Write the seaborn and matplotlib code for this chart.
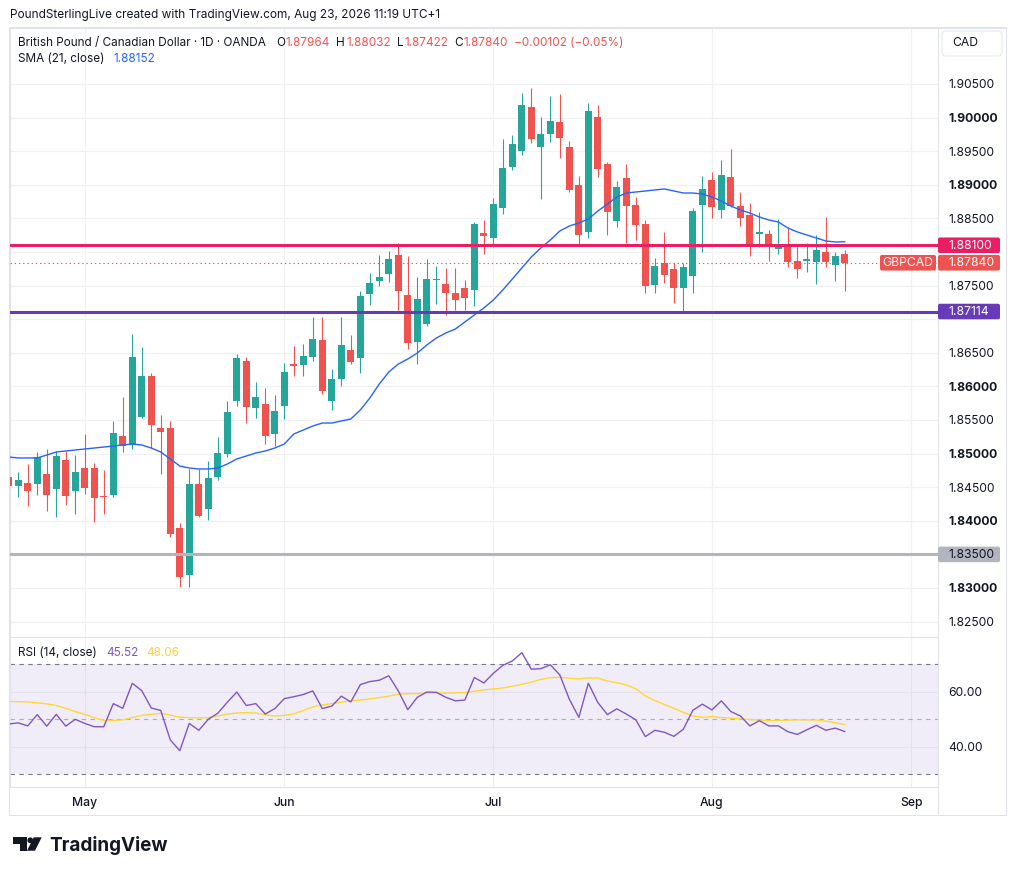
import numpy as np
import pandas as pd
import matplotlib
matplotlib.use("Agg")
import matplotlib.pyplot as plt
import seaborn as sns
from matplotlib.patches import Rectangle, FancyBboxPatch, Polygon, Circle
from matplotlib.lines import Line2D
from matplotlib.transforms import Affine2D

# ---------------- data (GBP/CAD daily, OANDA) ----------------
start_date = "2026-04-21"
end_date = "2026-08-21"

open_ = [1.84652, 1.84518, 1.84563, 1.84548, 1.84696, 1.84473, 1.84905, 1.84443, 1.84786, 1.84786,
         1.84369, 1.84384, 1.85262, 1.85128, 1.85545, 1.86155, 1.85381, 1.85381, 1.83893, 1.83193,
         1.84548, 1.84176, 1.84652, 1.84994, 1.85783, 1.86378, 1.85679, 1.85738, 1.85292, 1.85708,
         1.86333, 1.86318, 1.86438, 1.86691, 1.85783, 1.86110, 1.86542, 1.86423, 1.87375, 1.87568,
         1.87673, 1.87955, 1.87360, 1.86661, 1.86929, 1.87583, 1.87524, 1.87390, 1.87464, 1.87435,
         1.88283, 1.88208, 1.88655, 1.89265, 1.89503, 1.90158, 1.89563, 1.89756, 1.89935, 1.89563,
         1.88997, 1.88298, 1.90009, 1.89310, 1.88461, 1.89101, 1.88699, 1.88417, 1.87509, 1.87836,
         1.87747, 1.87464, 1.87643, 1.88699, 1.89071, 1.88625, 1.89116, 1.88685, 1.88551, 1.88268,
         1.88268, 1.88045, 1.88104, 1.87866, 1.87866, 1.87851, 1.88000, 1.87807, 1.87964]
high = [1.84726, 1.84726, 1.84845, 1.85024, 1.85068, 1.85039, 1.85039, 1.84979, 1.85292, 1.84860,
        1.84756, 1.85485, 1.85842, 1.86780, 1.86586, 1.86199, 1.85574, 1.85485, 1.83967, 1.84771,
        1.84771, 1.84890, 1.85247, 1.85783, 1.86482, 1.86438, 1.86065, 1.85976, 1.85872, 1.86348,
        1.86601, 1.86631, 1.87033, 1.87033, 1.86259, 1.87033, 1.86765, 1.87420, 1.87688, 1.87955,
        1.88015, 1.88134, 1.87940, 1.87628, 1.87896, 1.87792, 1.87762, 1.87762, 1.87583, 1.88446,
        1.88476, 1.88804, 1.89682, 1.89741, 1.90366, 1.90441, 1.90009, 1.90321, 1.90351, 1.89652,
        1.89131, 1.90217, 1.90188, 1.89339, 1.89057, 1.89310, 1.88818, 1.88476, 1.87911, 1.88298,
        1.87836, 1.87836, 1.88655, 1.89131, 1.89190, 1.89369, 1.89533, 1.88893, 1.88729, 1.88595,
        1.88327, 1.88491, 1.88372, 1.88074, 1.88134, 1.88253, 1.88521, 1.88000, 1.88032]
low = [1.84429, 1.84354, 1.84220, 1.84384, 1.84146, 1.84057, 1.84235, 1.84101, 1.84399, 1.83982,
       1.84101, 1.84354, 1.85024, 1.85068, 1.85530, 1.85083, 1.84696, 1.83759, 1.83015, 1.83015,
       1.84057, 1.84012, 1.84607, 1.84949, 1.85708, 1.85455, 1.85530, 1.85143, 1.85113, 1.85515,
       1.86155, 1.86155, 1.86378, 1.85887, 1.85649, 1.86006, 1.86333, 1.86199, 1.87211, 1.87494,
       1.87554, 1.87137, 1.86557, 1.86333, 1.86899, 1.87226, 1.87063, 1.87137, 1.87137, 1.87196,
       1.87970, 1.88074, 1.88565, 1.89220, 1.89443, 1.89622, 1.88789, 1.89637, 1.89399, 1.88893,
       1.88104, 1.88208, 1.89116, 1.88253, 1.88372, 1.88134, 1.88179, 1.87390, 1.87390, 1.87539,
       1.87241, 1.87107, 1.87390, 1.88000, 1.88506, 1.88506, 1.88670, 1.88387, 1.87940, 1.88074,
       1.87866, 1.87970, 1.87777, 1.87613, 1.87702, 1.87524, 1.87777, 1.87568, 1.87422]
close = [1.84518, 1.84607, 1.84443, 1.84949, 1.84384, 1.84964, 1.84369, 1.84726, 1.84488, 1.84339,
         1.84354, 1.85307, 1.85113, 1.86438, 1.86155, 1.85426, 1.85321, 1.83804, 1.83164, 1.84548,
         1.84071, 1.84637, 1.85009, 1.85619, 1.86423, 1.85694, 1.85842, 1.85262, 1.85634, 1.86214,
         1.86304, 1.86452, 1.86705, 1.85932, 1.86110, 1.86616, 1.86363, 1.87345, 1.87539, 1.87628,
         1.87896, 1.87420, 1.86646, 1.87301, 1.87598, 1.87598, 1.87390, 1.87286, 1.87315, 1.88417,
         1.88238, 1.88714, 1.89250, 1.89607, 1.90188, 1.89682, 1.89756, 1.89949, 1.89696, 1.88923,
         1.88253, 1.90098, 1.89235, 1.88595, 1.88967, 1.88685, 1.88402, 1.87494, 1.87792, 1.87658,
         1.87464, 1.87777, 1.88610, 1.88938, 1.88670, 1.89146, 1.88685, 1.88506, 1.88074, 1.88298,
         1.88089, 1.88104, 1.87851, 1.87747, 1.87896, 1.88030, 1.87851, 1.87942, 1.87840]
sma21 = [1.84949, 1.84935, 1.84935, 1.84935, 1.84979, 1.85024, 1.85039, 1.85054, 1.85068, 1.85083,
         1.85098, 1.85113, 1.85128, 1.85143, 1.85128, 1.85083, 1.85024, 1.84920, 1.84815, 1.84786,
         1.84771, 1.84771, 1.84786, 1.84845, 1.84920, 1.84964, 1.85009, 1.85039, 1.85083, 1.85143,
         1.85292, 1.85351, 1.85411, 1.85455, 1.85455, 1.85485, 1.85515, 1.85649, 1.85827, 1.86036,
         1.86214, 1.86333, 1.86408, 1.86497, 1.86616, 1.86720, 1.86795, 1.86854, 1.86958, 1.87063,
         1.87167, 1.87286, 1.87435, 1.87598, 1.87762, 1.87926, 1.88060, 1.88179, 1.88313, 1.88387,
         1.88432, 1.88491, 1.88610, 1.88714, 1.88818, 1.88878, 1.88893, 1.88908, 1.88923, 1.88938,
         1.88908, 1.88878, 1.88878, 1.88863, 1.88818, 1.88759, 1.88685, 1.88625, 1.88580, 1.88521,
         1.88476, 1.88446, 1.88357, 1.88298, 1.88253, 1.88208, 1.88164, 1.88149, 1.88152]
rsi14 = [48.3, 48.7, 47.6, 51.7, 47.5, 51.8, 47.5, 50.0, 48.5, 47.3,
         47.3, 55.7, 54.0, 63.1, 60.4, 54.1, 53.2, 42.5, 38.6, 48.5,
         46.0, 50.0, 52.2, 56.2, 59.9, 55.0, 55.7, 51.9, 53.9, 57.5,
         58.2, 59.0, 60.3, 53.9, 54.8, 58.4, 56.3, 62.6, 63.7, 64.2,
         65.8, 60.3, 53.5, 58.0, 59.9, 59.8, 58.0, 56.7, 57.0, 65.2,
         63.2, 66.7, 69.6, 71.2, 74.2, 68.2, 68.4, 69.8, 66.1, 57.3,
         50.7, 63.1, 56.1, 51.7, 53.8, 51.9, 49.8, 43.7, 46.0, 45.3,
         43.8, 46.4, 53.3, 55.5, 53.4, 56.7, 52.8, 51.2, 47.6, 49.5,
         47.6, 47.6, 45.5, 44.5, 46.2, 47.8, 46.0, 46.8, 45.52]
rsi_ma = [56.5, 56.4, 56.3, 56.0, 55.6, 55.0, 54.0, 52.8, 51.8, 50.6,
          49.6, 49.6, 49.8, 50.6, 51.4, 51.8, 52.2, 51.5, 50.8, 50.6,
          50.5, 50.6, 51.2, 51.9, 52.3, 52.4, 52.3, 51.6, 51.2, 51.4,
          52.0, 53.2, 54.5, 55.2, 55.7, 56.2, 56.7, 57.0, 57.4, 57.9,
          58.4, 59.1, 59.3, 59.3, 59.5, 59.6, 59.5, 59.6, 59.7, 60.2,
          60.7, 61.0, 61.4, 62.0, 62.7, 63.5, 64.5, 65.1, 65.3, 64.9,
          64.7, 65.0, 65.0, 63.9, 63.3, 62.5, 61.1, 58.5, 56.8, 55.4,
          54.0, 52.5, 51.2, 50.7, 51.0, 50.6, 50.4, 50.2, 49.9, 49.7,
          49.5, 49.6, 49.7, 49.8, 49.8, 49.7, 49.3, 48.8, 48.06]

level_red = 1.88100
level_purple = 1.87114
level_grey = 1.83500
price_ticks = [1.825, 1.830, 1.835, 1.840, 1.845, 1.850, 1.855, 1.860, 1.865, 1.870,
               1.875, 1.880, 1.885, 1.890, 1.895, 1.900, 1.905]
hidden_ticks = [1.870, 1.880]   # covered by the level / price labels
rsi_ticks = [40, 60]
month_keys = ["2026-05", "2026-06", "2026-07", "2026-08", "2026-09"]

# ---------------- style ----------------
sns.set_theme(style="white")
plt.rcParams['font.family'] = ['Inter', 'DejaVu Sans']

UP, DOWN = '#26a69a', '#ef5350'
TXT = '#131722'
GRID = '#f0f1f4'
BORDER = '#e0e3eb'

W, H = 1016, 875
fig = plt.figure(figsize=(W / 100, H / 100), dpi=100)
fig.patch.set_facecolor('white')
pix = Affine2D().scale(1 / W, -1 / H).translate(0, 1) + fig.transFigure
renderer = fig.canvas.get_renderer()


def axrect(l, t, r, b):
    return [l / W, 1 - b / H, (r - l) / W, (b - t) / H]


def fit_size(s, width_px, weight='normal'):
    t = fig.text(0, 0, s, fontsize=10, fontweight=weight)
    w = t.get_window_extent(renderer).width
    t.remove()
    return 10 * width_px / w


def twidth(s, size, weight='normal'):
    t = fig.text(0, 0, s, fontsize=size, fontweight=weight)
    w = t.get_window_extent(renderer).width
    t.remove()
    return w


def ptext(x, y, s, size, color=TXT, weight='normal', ha='left', va='center'):
    return fig.text(x, y, s, fontsize=size, color=color, fontweight=weight,
                    ha=ha, va=va, transform=pix)


FS = fit_size("1.90500", 47)

ax_p = fig.add_axes(axrect(10, 28, 938, 637))
ax_r = fig.add_axes(axrect(10, 637, 938, 787))

dates = pd.bdate_range(start_date, end_date)
idx = np.arange(len(dates))
ext = pd.bdate_range(start_date, "2026-09-30")
ext_m = ext.strftime("%Y-%m")
month_pos = [int(np.where(ext_m == m)[0][0]) for m in month_keys]
month_lab = [pd.Timestamp(m + "-01").strftime("%b") for m in month_keys]

xlim = (0.13, 97.8)
for ax in (ax_p, ax_r):
    ax.set_xlim(*xlim)
    ax.set_facecolor('white')
    for sp in ax.spines.values():
        sp.set_color(BORDER)
        sp.set_linewidth(0.75)
    for p in month_pos:
        ax.axvline(p, color=GRID, lw=0.9, zorder=0)

# ---------------- price pane ----------------
ax_p.set_ylim(1.822708, 1.913333)
for t in price_ticks:
    ax_p.axhline(t, color=GRID, lw=0.9, zorder=0)

o = np.array(open_); c = np.array(close)
cols = [UP if cc >= oo else DOWN for oo, cc in zip(o, c)]
ax_p.vlines(idx, low, high, colors=cols, linewidth=0.8, zorder=2)
body_bot = np.minimum(o, c)
body_h = np.maximum(np.abs(c - o), 0.00013)
ax_p.bar(idx, body_h, bottom=body_bot, width=0.72, color=cols, linewidth=0, zorder=3)

sns.lineplot(x=idx, y=sma21, ax=ax_p, color='#2962ff', linewidth=1.0, zorder=4)

ax_p.axhline(close[-1], color=DOWN, lw=0.8, linestyle=(0, (1.2, 2.6)), zorder=4)
ax_p.axhline(level_red, color='#e91e63', lw=2.2, zorder=5)
ax_p.axhline(level_purple, color='#673ab7', lw=2.2, zorder=5)
ax_p.axhline(level_grey, color='#b2b5be', lw=2.2, zorder=5)

ax_p.set_yticks(price_ticks)
ax_p.set_yticklabels(['' if any(abs(t - h) < 1e-9 for h in hidden_ticks) else f"{t:.5f}"
                      for t in price_ticks])
ax_p.yaxis.tick_right()
ax_p.tick_params(axis='y', length=0, pad=7.2, labelsize=FS, labelcolor=TXT)
for lab, t in zip(ax_p.get_yticklabels(), price_ticks):
    if round(t * 1000) % 10 == 0:
        lab.set_fontweight('bold')
ax_p.tick_params(axis='x', bottom=False, labelbottom=False)
ax_p.set_xlabel(''); ax_p.set_ylabel('')

# ---------------- RSI pane ----------------
ax_r.set_ylim(25.4, 79.9)
for t in rsi_ticks:
    ax_r.axhline(t, color=GRID, lw=0.9, zorder=0)
ax_r.axhspan(30, 70, color='#7e57c2', alpha=0.1, lw=0, zorder=0.5)
ax_r.axhline(70, color='#787b86', lw=0.8, linestyle=(0, (4, 4)), zorder=1)
ax_r.axhline(30, color='#787b86', lw=0.8, linestyle=(0, (4, 4)), zorder=1)
ax_r.axhline(50, color='#787b86', lw=0.8, alpha=0.55, linestyle=(0, (4, 4)), zorder=1)
sns.lineplot(x=idx, y=rsi_ma, ax=ax_r, color='#fdd835', linewidth=1.0, zorder=2)
sns.lineplot(x=idx, y=rsi14, ax=ax_r, color='#7e57c2', linewidth=1.0, zorder=3)
ax_r.set_yticks(rsi_ticks)
ax_r.set_yticklabels([f"{t:.2f}" for t in rsi_ticks])
ax_r.yaxis.tick_right()
ax_r.tick_params(axis='y', length=0, pad=7.2, labelsize=FS, labelcolor=TXT)
ax_r.set_xticks(month_pos)
ax_r.set_xticklabels(month_lab)
ax_r.tick_params(axis='x', length=0, pad=7.0, labelsize=FS, labelcolor=TXT)
for lab in ax_r.get_xticklabels():
    lab.set_fontweight('medium')
ax_r.set_xlabel(''); ax_r.set_ylabel('')

# ---------------- frames ----------------
fig.add_artist(Rectangle((9, 27), 997, 788, transform=pix, fill=False, ec=BORDER, lw=0.75))
fig.add_artist(Line2D([938, 938], [787, 815], transform=pix, color=BORDER, lw=0.75))
fig.add_artist(Line2D([938, 1006], [28, 28], transform=pix, color=BORDER, lw=0.75))


def ypix(ax, v):
    return H - ax.transData.transform((0, v))[1]


def value_box(v, fc, tc='white', label=None):
    y = ypix(ax_p, v)
    fig.add_artist(FancyBboxPatch((938, y - 7.8), 62, 15.6, transform=pix,
                                  boxstyle="round,pad=0,rounding_size=2", fc=fc, ec='none', zorder=6))
    fig.text(948, y + 0.3, f"{v:.5f}", transform=pix, fontsize=FS, color=tc,
             ha='left', va='center', zorder=7)
    if label:
        fig.add_artist(FancyBboxPatch((880, y - 7.8), 56, 15.6, transform=pix,
                                      boxstyle="round,pad=0,rounding_size=2", fc=fc, ec='none', zorder=6))
        fig.text(908, y + 0.3, label, transform=pix, fontsize=FS, color=tc,
                 ha='center', va='center', zorder=7)


value_box(level_red, '#e91e63')
value_box(close[-1], DOWN, label='GBPCAD')
value_box(level_purple, '#673ab7')
value_box(level_grey, '#b2b5be', tc=TXT)

# CAD currency box
fig.add_artist(FancyBboxPatch((942, 31), 60, 25, transform=pix,
                              boxstyle="round,pad=0,rounding_size=4", fc='white', ec='#e6e8ee', lw=0.8))
ptext(952, 43.5, "CAD", FS)

# ---------------- header texts ----------------
hdr = "PoundSterlingLive created with TradingView.com, Aug 23, 2026 11:19 UTC+1"
ptext(10, 15, hdr, fit_size(hdr, 432))

sym = "British Pound / Canadian Dollar · 1D · OANDA"
FS2 = fit_size(sym, 250)
ptext(18, 43, sym, FS2)
x = 276
for letter, val in [("O", open_[-1]), ("H", high[-1]), ("L", low[-1]), ("C", close[-1])]:
    ptext(x, 43, letter, FS2)
    x += twidth(letter, FS2) + 1
    s = f"{val:.5f}"
    ptext(x, 43, s, FS2, color=DOWN)
    x += twidth(s, FS2) + 6
chg = close[-1] - close[-2]
pct = chg / close[-2] * 100
ptext(x, 43, f"−{abs(chg):.5f} (−{abs(pct):.2f}%)", FS2, color=DOWN)

ptext(18, 59, "SMA (21, close)", FS2)
ptext(113, 59, f"{sma21[-1]:.5f}", FS2, color='#2962ff')

ptext(18, 653, "RSI (14, close)", FS2)
ptext(106, 653, f"{rsi14[-1]:.2f}", FS2, color='#7e57c2')
ptext(146, 653, f"{rsi_ma[-1]:.2f}", FS2, color='#f9d33a')

# ---------------- TradingView logo ----------------
LOGO = '#131722'
fig.add_artist(Polygon([(12.7, 837.3), (26.7, 837.3), (26.7, 850.7), (20.0, 850.7),
                        (20.0, 843.5), (12.7, 843.5)], closed=True, transform=pix, fc=LOGO, ec='none'))
fig.add_artist(Circle((30.3, 840.3), 2.9, transform=pix, fc=LOGO, ec='none'))
fig.add_artist(Polygon([(33.8, 837.3), (41.7, 837.3), (35.0, 850.7), (27.0, 850.7)],
                       closed=True, transform=pix, fc=LOGO, ec='none'))
tv = "TradingView"
ptext(49.5, 850.7, tv, fit_size(tv, 119, 'bold'), color=LOGO, weight='bold', va='baseline')

fig.savefig("out.png", dpi=100, facecolor='white')
